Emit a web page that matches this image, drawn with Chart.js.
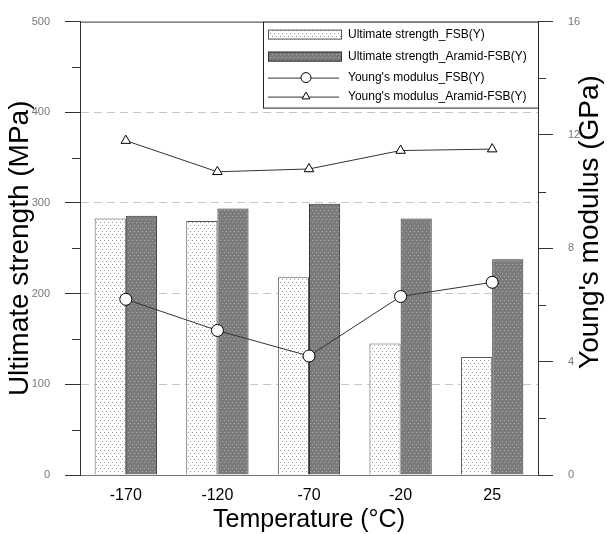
<!DOCTYPE html>
<html>
<head>
<meta charset="utf-8">
<script src="https://cdn.jsdelivr.net/npm/chart.js@4.4.0/dist/chart.umd.min.js"></script>
<style>
  html, body { margin: 0; padding: 0; background: #fff; }
  canvas { display: block; }
</style>
</head>
<body>
<canvas id="strengthChart" width="607" height="534"></canvas>
<script>
        // values
        const temperatures = ['-170', '-120', '-70', '-20', '25'];
        const strengthFSB = [283, 280, 218, 145, 130];
        const strengthAramid = [286, 294, 299, 283, 238];
        const modulusFSB = [6.2, 5.1, 4.2, 6.3, 6.8];
        const modulusAramid = [11.8, 10.7, 10.8, 11.45, 11.5];
        const strengthMinorTicks = [50, 150, 250, 350, 450];
        const modulusMinorTicks = [2, 6, 10, 14];
        const gridValues = [100, 200, 300, 400];

        const FONT = '"Liberation Sans", Arial, sans-serif';
        const canvas = document.getElementById('strengthChart');
        const ctx = canvas.getContext('2d');

        // dotted fills like the original plot
        const makeDots = (bg, dot) => {
            const tile = document.createElement('canvas');
            tile.width = 4;
            tile.height = 6;
            const g = tile.getContext('2d');
            g.fillStyle = bg;
            g.fillRect(0, 0, 4, 6);
            g.fillStyle = dot;
            g.fillRect(0, 0, 1, 1);
            g.fillRect(2, 3, 1, 1);
            return ctx.createPattern(tile, 'repeat');
        };
        const lightDots = makeDots('#ffffff', '#9a9a9a');
        const darkDots = makeDots('#7b7b7b', '#a9a9a9');

        const extras = {
            id: 'extras',
            afterDraw(chart) {
                const c = chart.ctx;
                const area = chart.chartArea;
                const yL = chart.scales.y;
                const yR = chart.scales.y1;
                c.save();
                c.strokeStyle = '#333';
                c.lineWidth = 1;

                // top frame
                c.beginPath();
                c.moveTo(area.left, area.top + 0.5);
                c.lineTo(area.right, area.top + 0.5);
                c.stroke();

                // minor ticks
                strengthMinorTicks.forEach(v => {
                    const py = Math.round(yL.getPixelForValue(v)) + 0.5;
                    c.beginPath();
                    c.moveTo(area.left - 8, py);
                    c.lineTo(area.left, py);
                    c.stroke();
                });
                modulusMinorTicks.forEach(v => {
                    const py = Math.round(yR.getPixelForValue(v)) + 0.5;
                    c.beginPath();
                    c.moveTo(area.right, py);
                    c.lineTo(area.right + 8, py);
                    c.stroke();
                });

                // axis titles
                c.fillStyle = '#000';
                c.textAlign = 'center';
                c.textBaseline = 'middle';
                c.font = '28px ' + FONT;
                c.save();
                c.translate(20, (area.top + area.bottom) / 2);
                c.rotate(-Math.PI / 2);
                c.fillText('Ultimate strength (MPa)', 0, 0);
                c.restore();
                c.save();
                c.translate(590, 222);
                c.rotate(-Math.PI / 2);
                c.fillText("Young's modulus (GPa)", 0, 0);
                c.restore();
                c.font = '25px ' + FONT;
                c.fillText('Temperature (\u00B0C)', (area.left + area.right) / 2, 520);

                // legend box
                const w = 275, h = 86;
                const x0 = area.right - w, y0 = area.top;
                c.fillStyle = '#fff';
                c.fillRect(x0, y0, w, h);
                c.strokeStyle = '#222';
                c.strokeRect(x0 + 0.5, y0 + 0.5, w, h);
                const rows = [13, 35, 56, 75];
                c.font = '12px ' + FONT;
                c.textAlign = 'left';
                chart.data.datasets.forEach((ds, i) => {
                    const cy = y0 + rows[i];
                    if (ds.type === 'bar') {
                        c.fillStyle = ds.backgroundColor;
                        c.fillRect(x0 + 5, cy - 5, 74, 10);
                        c.strokeStyle = ds.borderColor;
                        c.strokeRect(x0 + 5.5, cy - 4.5, 73, 9);
                    } else {
                        c.strokeStyle = ds.borderColor;
                        c.beginPath();
                        c.moveTo(x0 + 5, cy + 0.5);
                        c.lineTo(x0 + 76, cy + 0.5);
                        c.stroke();
                        c.fillStyle = '#fff';
                        c.strokeStyle = '#000';
                        Chart.helpers.drawPoint(c, {
                            pointStyle: ds.pointStyle,
                            radius: ds.pointRadius - 1,
                            borderWidth: 1,
                            rotation: 0
                        }, x0 + 43, cy);
                    }
                    c.fillStyle = '#000';
                    c.fillText(ds.label, x0 + 85, cy);
                });
                c.restore();
            }
        };

        const chart = new Chart(ctx, {
            data: {
                labels: temperatures,
                datasets: [
                    {
                        type: 'bar',
                        label: 'Ultimate strength_FSB(Y)',
                        data: strengthFSB,
                        backgroundColor: lightDots,
                        borderColor: '#555',
                        borderWidth: 1,
                        yAxisID: 'y',
                        order: 1,
                        barPercentage: 1,
                        categoryPercentage: 0.68
                    },
                    {
                        type: 'bar',
                        label: 'Ultimate strength_Aramid-FSB(Y)',
                        data: strengthAramid,
                        backgroundColor: darkDots,
                        borderColor: '#333',
                        borderWidth: 1,
                        yAxisID: 'y',
                        order: 1,
                        barPercentage: 1,
                        categoryPercentage: 0.68
                    },
                    {
                        type: 'line',
                        label: "Young's modulus_FSB(Y)",
                        data: modulusFSB,
                        borderColor: '#333',
                        borderWidth: 1,
                        pointStyle: 'circle',
                        pointRadius: 6,
                        pointBackgroundColor: '#fff',
                        pointBorderColor: '#000',
                        pointBorderWidth: 1,
                        tension: 0,
                        yAxisID: 'y1',
                        order: 0
                    },
                    {
                        type: 'line',
                        label: "Young's modulus_Aramid-FSB(Y)",
                        data: modulusAramid,
                        borderColor: '#333',
                        borderWidth: 1,
                        pointStyle: 'triangle',
                        pointRadius: 5.5,
                        pointBackgroundColor: '#fff',
                        pointBorderColor: '#000',
                        pointBorderWidth: 1,
                        tension: 0,
                        yAxisID: 'y1',
                        order: 0
                    }
                ]
            },
            options: {
                responsive: false,
                animation: false,
                layout: { padding: { top: 15, left: 0, right: 0, bottom: 0 } },
                plugins: {
                    legend: { display: false },
                    tooltip: { enabled: false }
                },
                scales: {
                    x: {
                        offset: true,
                        grid: { display: false },
                        border: { display: true, color: '#777', width: 1 },
                        ticks: {
                            color: '#000',
                            padding: 3,
                            font: { size: 16, family: FONT }
                        },
                        afterFit: s => { s.height = 59; }
                    },
                    y: {
                        position: 'left',
                        min: 0,
                        max: 500,
                        ticks: {
                            stepSize: 100,
                            color: '#777',
                            padding: 15,
                            font: { size: 11, family: FONT }
                        },
                        grid: {
                            color: c => (c.tick && gridValues.includes(c.tick.value)) ? '#c8c8c8' : 'rgba(0,0,0,0)',
                            tickColor: '#333',
                            tickLength: 15,
                            lineWidth: 1
                        },
                        border: { display: true, color: '#333', width: 1, dash: [8, 5] },
                        afterFit: s => { s.width = 80; }
                    },
                    y1: {
                        position: 'right',
                        min: 0,
                        max: 16,
                        ticks: {
                            stepSize: 4,
                            color: '#777',
                            padding: 15,
                            font: { size: 11, family: FONT }
                        },
                        grid: {
                            drawOnChartArea: false,
                            tickColor: '#333',
                            tickLength: 15
                        },
                        border: { display: true, color: '#333', width: 1 },
                        afterFit: s => { s.width = 69; }
                    }
                }
            },
            plugins: [extras]
        });
</script>
</body>
</html>
